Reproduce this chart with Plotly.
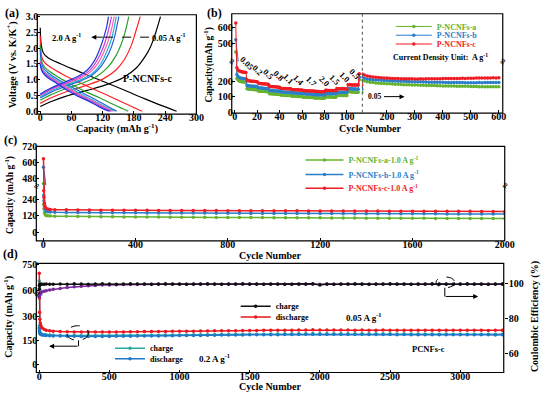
import plotly.graph_objects as go

# ======================= DATA =======================
# (a) charge / discharge profiles of P-NCNFs-c at different current densities (A g-1)
A_RATES = ["0.05", "0.2", "0.5", "0.8", "1.1", "1.4", "1.7", "2.0"]
A_CHG_CAP = [
    [0, 20, 50, 90, 130, 160, 185, 200, 212, 222, 231],
    [0, 20, 50, 90, 120, 145, 162, 174, 183, 192],
    [0, 20, 50, 85, 110, 130, 145, 155, 163, 170],
    [0, 20, 50, 80, 100, 118, 132, 141, 146, 151],
    [0, 20, 50, 80, 100, 116, 128, 137, 142, 146],
    [0, 20, 50, 78, 97, 112, 124, 133, 138, 142],
    [0, 20, 50, 75, 94, 108, 120, 128, 133, 137],
    [0, 20, 48, 72, 90, 104, 115, 123, 128, 131],
]
A_CHG_V = [
    [0.15, 0.30, 0.48, 0.66, 0.86, 1.07, 1.38, 1.70, 2.05, 2.50, 3.00],
    [0.25, 0.42, 0.62, 0.83, 1.02, 1.30, 1.65, 2.05, 2.50, 3.00],
    [0.35, 0.52, 0.72, 0.92, 1.12, 1.40, 1.75, 2.10, 2.50, 3.00],
    [0.42, 0.60, 0.80, 0.98, 1.15, 1.45, 1.85, 2.25, 2.60, 3.00],
    [0.46, 0.64, 0.84, 1.02, 1.20, 1.50, 1.90, 2.30, 2.65, 3.00],
    [0.50, 0.68, 0.88, 1.06, 1.25, 1.55, 1.95, 2.35, 2.68, 3.00],
    [0.52, 0.70, 0.90, 1.08, 1.28, 1.58, 1.98, 2.38, 2.70, 3.00],
    [0.55, 0.73, 0.93, 1.10, 1.30, 1.60, 2.00, 2.40, 2.70, 3.00],
]
A_DIS_CAP = [
    [0, 2, 6, 15, 40, 80, 120, 160, 200, 235, 262],
    [0, 2, 6, 15, 40, 70, 100, 130, 160, 185, 196],
    [0, 2, 6, 15, 35, 60, 90, 115, 140, 160, 169],
    [0, 2, 6, 15, 35, 60, 85, 105, 125, 140, 147],
    [0, 2, 6, 15, 35, 58, 80, 100, 120, 135, 143],
    [0, 2, 6, 15, 35, 55, 78, 98, 117, 131, 139],
    [0, 2, 6, 15, 33, 53, 75, 95, 113, 127, 136],
    [0, 2, 6, 14, 32, 50, 72, 92, 110, 124, 133],
]
A_DIS_V = [
    [2.65, 2.10, 1.85, 1.70, 1.50, 1.22, 0.95, 0.68, 0.40, 0.17, 0.00],
    [2.40, 1.80, 1.60, 1.45, 1.20, 0.95, 0.72, 0.50, 0.27, 0.08, 0.00],
    [2.10, 1.65, 1.45, 1.30, 1.08, 0.85, 0.60, 0.42, 0.22, 0.07, 0.00],
    [1.95, 1.55, 1.38, 1.22, 1.00, 0.78, 0.55, 0.38, 0.20, 0.06, 0.00],
    [1.70, 1.45, 1.30, 1.16, 0.95, 0.74, 0.53, 0.36, 0.19, 0.06, 0.00],
    [1.60, 1.40, 1.26, 1.12, 0.92, 0.72, 0.51, 0.35, 0.18, 0.06, 0.00],
    [1.55, 1.36, 1.23, 1.10, 0.90, 0.70, 0.50, 0.34, 0.18, 0.06, 0.00],
    [1.50, 1.33, 1.20, 1.07, 0.88, 0.68, 0.48, 0.33, 0.17, 0.05, 0.00],
]

# (b) rate performance (cycles 1-111 every cycle, then every 10 cycles)
B_CYCLES = list(range(1, 112)) + list(range(120, 601, 10))
B_NAMES = ["P-NCNFs-a", "P-NCNFs-b", "P-NCNFs-c"]
B_RATE_LABELS = ["0.05", "0.2", "0.5", "0.8", "1.1", "1.4", "1.7", "2.0", "1.5", "1.0", "0.5"]
B_A = [446, 216, 206, 201, 198, 196, 195, 194, 193, 192,
       150, 149, 148, 147, 147, 146, 146, 145, 145, 145,
       136, 135, 135, 134, 134, 133, 133, 133, 132, 132,
       119, 118, 118, 117, 117, 117, 116, 116, 116, 115,
       110, 110, 109, 109, 109, 108, 108, 108, 107, 107,
       103, 103, 102, 102, 102, 101, 101, 101, 101, 100,
       97, 97, 96, 96, 96, 96, 95, 95, 95, 95,
       92, 92, 91, 91, 91, 91, 90, 90, 90, 90,
       99, 99, 98, 98, 98, 98, 97, 97, 97, 97,
       110, 109, 109, 109, 108, 108, 108, 108, 107, 107,
       132, 131, 131, 130, 130, 130, 129, 129, 129, 129,
       208, 200, 195, 192, 190, 188, 186, 185, 184, 183,
       182, 181, 180, 179, 178, 177, 177, 176, 175, 175,
       174, 173, 173, 172, 172, 171, 171, 170, 170, 169,
       169, 168, 168, 168, 167, 167, 166, 166, 166, 165,
       165, 165, 164, 164, 164, 164, 163, 163, 163, 163]
B_B = [522, 242, 229, 223, 220, 218, 216, 215, 214, 213,
       172, 170, 169, 168, 167, 167, 166, 166, 165, 165,
       157, 156, 155, 155, 154, 154, 153, 153, 153, 152,
       140, 139, 139, 138, 138, 137, 137, 137, 136, 136,
       131, 130, 130, 130, 129, 129, 129, 128, 128, 128,
       124, 124, 123, 123, 123, 122, 122, 122, 122, 121,
       118, 118, 118, 117, 117, 117, 117, 116, 116, 116,
       113, 113, 113, 112, 112, 112, 112, 111, 111, 111,
       120, 120, 119, 119, 119, 119, 118, 118, 118, 118,
       130, 130, 129, 129, 129, 129, 128, 128, 128, 128,
       151, 150, 150, 150, 149, 149, 149, 149, 148, 148,
       225, 218, 213, 210, 208, 207, 206, 205, 204, 203,
       202, 201, 200, 199, 199, 198, 197, 197, 196, 196,
       195, 195, 194, 194, 193, 193, 193, 192, 192, 192,
       191, 191, 191, 190, 190, 190, 190, 189, 189, 189,
       189, 189, 190, 189, 190, 190, 190, 191, 190, 191]
B_C = [625, 285, 271, 265, 262, 260, 258, 257, 256, 255,
       206, 203, 201, 200, 199, 198, 198, 197, 197, 196,
       187, 185, 184, 183, 182, 182, 181, 181, 180, 180,
       166, 165, 164, 164, 163, 163, 162, 162, 161, 161,
       154, 153, 153, 152, 152, 151, 151, 150, 150, 150,
       146, 145, 145, 144, 144, 144, 143, 143, 143, 142,
       139, 139, 138, 138, 138, 137, 137, 137, 136, 136,
       134, 134, 133, 133, 133, 132, 132, 132, 131, 131,
       141, 141, 140, 140, 140, 139, 139, 139, 139, 138,
       152, 151, 151, 151, 150, 150, 150, 150, 149, 149,
       177, 176, 176, 175, 175, 175, 174, 174, 174, 174,
       246, 238, 233, 229, 226, 224, 222, 221, 220, 219,
       218, 217, 216, 216, 215, 215, 214, 214, 214, 213,
       213, 214, 213, 214, 214, 215, 214, 215, 215, 216,
       216, 216, 217, 216, 217, 217, 218, 217, 218, 218,
       218, 219, 219, 220, 219, 220, 220, 221, 220, 221]

# (c) long cycling at 1.0 A g-1
C_CYCLES = [1, 2, 3, 5, 8, 12, 20, 30, 50] + list(range(100, 2001, 50))
C_NAMES = ["P-NCNFs-a-1.0 A g<sup>-1</sup>", "P-NCNFs-b-1.0 A g<sup>-1</sup>", "P-NCNFs-c-1.0 A g<sup>-1</sup>"]
C_A = [442, 205, 172, 142, 129, 123, 120, 118, 117,
       116, 115, 114, 114, 113, 112, 112, 111, 111, 110,
       110, 109, 109, 108, 108, 107, 107, 107, 106, 106,
       105, 105, 105, 104, 104, 104, 103, 103, 103, 102,
       102, 102, 101, 101, 101, 100, 100, 100, 100]
C_B = [565, 270, 232, 192, 168, 156, 150, 148, 146,
       145, 144, 144, 143, 143, 142, 142, 141, 141, 141,
       140, 140, 140, 139, 139, 139, 138, 138, 138, 138,
       137, 137, 137, 137, 136, 136, 136, 136, 135, 135,
       135, 135, 135, 134, 134, 134, 134, 133, 133]
C_C = [628, 305, 255, 212, 188, 176, 170, 167, 165,
       164, 163, 163, 162, 162, 161, 161, 161, 160, 160,
       160, 159, 159, 159, 158, 158, 158, 157, 157, 157,
       157, 156, 156, 156, 155, 155, 155, 155, 154, 154,
       154, 154, 153, 153, 153, 153, 152, 152, 152]

# (d) PCNFs-c long cycling at 0.05 and 0.2 A g-1 with Coulombic efficiency
D_CYCLES = [1, 2, 3, 5, 8, 12, 20, 35, 50, 75, 100] + list(range(150, 3301, 50))
D_DIS_005 = [700, 420, 330, 285, 262, 246, 233, 223, 217, 213, 210,
             208, 207, 206, 206, 205, 205, 205, 206, 206, 206,
             207, 207, 208, 208, 209, 209, 210, 210, 211, 211,
             212, 212, 213, 213, 214, 214, 215, 215, 215, 216,
             216, 216, 217, 217, 218, 218, 219, 218, 218, 218,
             218, 218, 217, 218, 217, 217, 218, 217, 217, 217,
             217, 216, 217, 216, 216, 217, 216, 216, 216, 216,
             216, 215, 216, 216]
D_CHG_02 = [655, 245, 222, 206, 198, 194, 191, 189, 188, 186, 185,
            184, 183, 183, 182, 182, 182, 182, 182, 183, 183,
            183, 184, 184, 185, 185, 186, 186, 187, 187, 188,
            188, 189, 189, 190, 190, 191, 191, 192, 192, 192,
            193, 193, 194, 194, 195, 195, 196, 195, 195, 195,
            195, 195, 194, 195, 194, 194, 194, 194, 193, 194,
            193, 193, 193, 193, 192, 193, 192, 192, 192, 192,
            192, 192, 191, 192]
D_DIS_02 = [230, 214, 205, 198, 193, 190, 187, 185, 183, 182, 181,
            180, 179, 179, 178, 178, 178, 178, 178, 179, 179,
            179, 180, 180, 181, 181, 182, 182, 183, 183, 184,
            184, 185, 185, 186, 186, 187, 187, 188, 188, 188,
            189, 189, 190, 190, 191, 191, 192, 191, 191, 191,
            191, 191, 190, 191, 190, 190, 190, 190, 189, 190,
            189, 189, 189, 189, 188, 189, 188, 188, 188, 188,
            188, 188, 187, 188]
D_CE_005 = [97.0, 99.0, 99.4, 99.6, 99.7, 99.7, 99.8, 99.8, 99.9, 99.8, 99.8,
            99.9, 99.8, 100.0, 99.9, 99.8, 99.9, 100.0, 99.9, 99.8, 99.9,
            100.0, 99.9, 99.9, 99.8, 99.9, 100.0, 99.9, 99.9, 99.8, 99.9,
            99.9, 100.0, 99.9, 99.8, 99.9, 99.9, 100.0, 99.9, 99.9, 99.8,
            99.9, 99.9, 99.8, 99.8, 99.9, 99.9, 100.0, 99.3, 99.9, 99.8,
            99.9, 99.9, 100.0, 99.9, 99.8, 99.9, 99.9, 100.0, 99.9, 99.9,
            99.8, 99.9, 99.9, 100.0, 99.9, 99.9, 99.8, 99.9, 100.0, 99.9,
            99.9, 99.8, 99.9, 99.9]
D_CE_02 = [92.5, 93.5, 94.0, 94.4, 94.7, 95.0, 95.3, 95.7, 96.0, 96.5, 96.9,
           97.4, 97.9, 98.3, 98.6, 98.9, 99.1, 99.3, 99.4, 99.5, 99.6,
           99.6, 99.7, 99.7, 99.7, 99.8, 99.7, 99.8, 99.7, 99.8, 99.8,
           99.7, 99.8, 99.7, 99.8, 99.8, 99.7, 99.8, 99.8, 99.7, 99.8,
           99.8, 99.7, 99.8, 99.8, 99.7, 99.8, 99.7, 99.8, 99.8, 99.7,
           99.8, 99.8, 99.7, 99.8, 99.7, 99.8, 99.8, 99.7, 99.8, 99.8,
           99.7, 99.8, 99.8, 99.7, 99.8, 99.7, 99.8, 99.8, 99.7, 99.8,
           99.8, 99.7, 99.8, 99.8]

# tick labels
A_XTICKS = [0, 60, 120, 180, 240, 300]
A_YTICKS = [0.0, 0.5, 1.0, 1.5, 2.0, 2.5, 3.0]
B_XTICKS_L = [0, 20, 40, 60, 80, 100]
B_XTICKS_R = [200, 300, 400, 500, 600]
B_YTICKS_LO = [0, 100, 200]
B_YTICKS_HI = [500, 600]
C_XTICKS = [0, 400, 800, 1200, 1600, 2000]
C_YTICKS_LO = [0, 120, 240]
C_YTICKS_HI = [480, 600, 720]
D_XTICKS = [0, 500, 1000, 1500, 2000, 2500, 3000]
D_YTICKS_LO = [0, 150, 300]
D_YTICKS_HI = [600, 750]
D_Y2TICKS = [60, 80, 100]

# ======================= STYLE / LAYOUT =======================
W, H = 554, 397
SERIF = "Liberation Serif"


def fx(p):
    return p / W


def fy(p):
    return 1 - p / H


A_COLORS = ["#000000", "#ff2020", "#2ca02c", "#2b5fd9", "#19b6d2", "#ff5fb0", "#c43fd8", "#2233dd"]
B_COLORS = ["#66b32e", "#2a7fc8", "#ee1c24"]
D_RED, D_TEAL, D_BLUE, D_BLACK, D_PURPLE = "#e8161e", "#2aa9a2", "#1f78c8", "#111111", "#7a2a9a"

fig = go.Figure()

# ---- (a)
for i in range(len(A_RATES)):
    for xs, ys in ((A_CHG_CAP[i], A_CHG_V[i]), (A_DIS_CAP[i], A_DIS_V[i])):
        fig.add_trace(go.Scatter(x=xs, y=ys, mode="lines", line=dict(color=A_COLORS[i], width=1.2, shape="spline"),
                                 xaxis="x", yaxis="y", showlegend=False, name=A_RATES[i] + " A g-1"))

# ---- (b)
B_SERIES = [B_A, B_B, B_C]
for k in range(3):
    for j, (xa, ya) in enumerate((("x2", "y2"), ("x2", "y3"), ("x3", "y2"))):
        fig.add_trace(go.Scatter(x=B_CYCLES, y=B_SERIES[k], mode="lines+markers", name=B_NAMES[k],
                                 line=dict(color=B_COLORS[k], width=1),
                                 marker=dict(size=3.5, color=B_COLORS[k]),
                                 xaxis=xa, yaxis=ya, showlegend=(j == 0),
                                 legend="legend" if k == 0 else "legend%d" % (k + 1)))

# ---- (c)
C_SERIES = [C_A, C_B, C_C]
for k in range(3):
    for j, ya in enumerate(("y4", "y5")):
        fig.add_trace(go.Scatter(x=C_CYCLES, y=C_SERIES[k], mode="lines+markers", name=C_NAMES[k],
                                 line=dict(color=B_COLORS[k], width=1.5),
                                 marker=dict(size=3.5, color=B_COLORS[k]),
                                 xaxis="x4", yaxis=ya, showlegend=(j == 0), legend="legend%d" % (k + 4)))

# ---- (d)
fig.add_trace(go.Scatter(x=D_CYCLES, y=D_CE_02, mode="lines+markers", line=dict(color=D_PURPLE, width=1.5),
                         marker=dict(size=3.5, color=D_PURPLE), xaxis="x5", yaxis="y8", showlegend=False,
                         name="CE 0.2"))
fig.add_trace(go.Scatter(x=D_CYCLES, y=D_CE_005, mode="lines+markers", line=dict(color=D_BLACK, width=1.5),
                         marker=dict(size=3.5, color=D_BLACK), xaxis="x5", yaxis="y8", showlegend=True,
                         name="charge", legend="legend7"))
for series, color, nm, lg in ((D_CHG_02, D_TEAL, "charge", "legend9"),
                              (D_DIS_02, D_BLUE, "discharge", "legend10"),
                              (D_DIS_005, D_RED, "discharge", "legend8")):
    for j, ya in enumerate(("y6", "y7")):
        fig.add_trace(go.Scatter(x=D_CYCLES, y=series, mode="lines+markers", name=nm,
                                 line=dict(color=color, width=1.5), marker=dict(size=3.5, color=color),
                                 xaxis="x5", yaxis=ya, showlegend=(j == 0), legend=lg))


def ax(domain, rng, tickvals, anchor, side=None, fmt=None, size=10, ticks="inside", standoff=-2):
    d = dict(domain=domain, range=rng, tickvals=tickvals, anchor=anchor, showgrid=False, zeroline=False,
             showline=False, ticks=ticks, ticklen=3, tickwidth=1, tickcolor="black",
             ticklabelstandoff=standoff,
             tickfont=dict(family=SERIF, size=size, color="black", weight="bold"), fixedrange=True)
    if side:
        d["side"] = side
    if fmt:
        d["tickformat"] = fmt
    return d


XS = -4  # x tick label standoff
layout = dict(
    width=W, height=H, margin=dict(l=0, r=0, t=0, b=0),
    paper_bgcolor="white", plot_bgcolor="rgba(0,0,0,0)", showlegend=True,
    xaxis=ax([fx(38), fx(200)], [-5.6, 300], A_XTICKS, "y", standoff=XS),
    yaxis=ax([fy(112), fy(10)], [-0.093, 3.062], A_YTICKS, "x", fmt=".1f"),
    xaxis2=ax([fx(236), fx(369)], [-2.6, 113.7], B_XTICKS_L, "y2", standoff=XS),
    xaxis3=ax([fx(369), fx(512)], [112.3, 614], B_XTICKS_R, "y2", standoff=XS),
    yaxis2=ax([fy(111), fy(58)], [-6, 325], B_YTICKS_LO, "x2"),
    yaxis3=ax([fy(58), fy(9)], [387, 682], B_YTICKS_HI, "x2"),
    xaxis4=ax([fx(37), fx(514)], [-30, 2000], C_XTICKS, "y4", standoff=XS),
    yaxis4=ax([fy(242), fy(185)], [-65, 345], C_YTICKS_LO, "x4"),
    yaxis5=ax([fy(185), fy(145)], [429, 722], C_YTICKS_HI, "x4"),
    xaxis5=ax([fx(37), fx(513)], [-20, 3310], D_XTICKS, "y6", standoff=XS),
    yaxis6=ax([fy(377), fy(298)], [-49, 435], D_YTICKS_LO, "x5"),
    yaxis7=ax([fy(298), fy(265)], [572, 757], D_YTICKS_HI, "x5"),
    yaxis8=ax([fy(377), fy(265)], [49.4, 111.7], D_Y2TICKS, "x5", side="right", ticks="outside", standoff=-1),
)


def leg(x, y, color, iw=30, size=8):
    return dict(x=fx(x), y=fy(y), xanchor="left", yanchor="middle", xref="paper", yref="paper",
                bgcolor="rgba(0,0,0,0)", borderwidth=0, itemwidth=iw, tracegroupgap=0,
                font=dict(family=SERIF, size=size, color=color, weight="bold"))


layout["legend"] = leg(398, 22, B_COLORS[0], iw=36)
layout["legend2"] = leg(398, 31, B_COLORS[1], iw=36)
layout["legend3"] = leg(398, 40, B_COLORS[2], iw=36)
layout["legend4"] = leg(306, 159, B_COLORS[0], iw=38)
layout["legend5"] = leg(306, 174, B_COLORS[1], iw=38)
layout["legend6"] = leg(306, 188, B_COLORS[2], iw=38)
layout["legend7"] = leg(240, 309, "black")
layout["legend8"] = leg(240, 320, "black")
layout["legend9"] = leg(112, 352, "black")
layout["legend10"] = leg(112, 363, "black")


def txt(x, y, s, size=10, color="black", angle=0, xanchor="center"):
    return dict(x=fx(x), y=fy(y), xref="paper", yref="paper", text=s, showarrow=False,
                font=dict(family=SERIF, size=size, color=color, weight="bold"),
                textangle=angle, xanchor=xanchor, yanchor="middle")


def arrow(xh, yh, xt, yt):
    return dict(x=fx(xh), y=fy(yh), xref="paper", yref="paper", ax=xt - xh, ay=yt - yh,
                axref="pixel", ayref="pixel", text="", showarrow=True, arrowhead=2, arrowsize=1,
                arrowwidth=1, arrowcolor="black")


ann = [
    txt(12, 8, "(a)", size=12), txt(218, 8, "(b)", size=12),
    txt(11, 138, "(c)", size=12), txt(11, 255, "(d)", size=12),
    # axis titles
    txt(12, 61, "Voltage (V vs. K/K<sup>+</sup>)", size=10, angle=-90),
    txt(119, 127, "Capacity (mAh g<sup>-1</sup>)", size=10),
    txt(212, 62, "Capacity(mAh g<sup>-1</sup>)", size=9.5, angle=-90),
    txt(377, 127, "Cycle Number", size=10),
    txt(9, 195, "Capacity (mAh g<sup>-1</sup>)", size=9.5, angle=-90),
    txt(275, 257, "Cycle Number", size=10),
    txt(9, 320, "Capacity (mAh g<sup>-1</sup>)", size=10, angle=-90),
    txt(545, 320, "Coulombic Efficiency (%)", size=10, angle=-90),
    txt(275, 391, "Cycle Number", size=10),
    # (a)
    txt(68, 33, "2.0 A g<sup>-1</sup>", size=8.5), txt(172, 33, "0.05 A g<sup>-1</sup>", size=8.5),
    arrow(93, 33, 106, 33),
    txt(150, 75, "P-NCNFs-c", size=10),
    # (b)
    txt(398, 53, "Current Density Unit:  A g<sup>-1</sup>", size=8, xanchor="left"),
    txt(381, 94, "0.05", size=7.5), arrow(412, 94, 390, 94),
    # (d)
    txt(371, 320, "0.05 A g<sup>-1</sup>", size=9), txt(218, 362, "0.2 A g<sup>-1</sup>", size=9),
    txt(436, 353, "PCNFs-c", size=8.5),
    arrow(487, 299, 453, 299), arrow(50, 350, 80, 350),
]
B_LABEL_POS = [(251, 60), (262, 67), (273, 71), (284, 73), (294, 76), (304, 77), (317, 78), (330, 78),
               (341, 77), (351, 74), (361, 71)]
for lab, (x, y) in zip(B_RATE_LABELS, B_LABEL_POS):
    ann.append(txt(x, y, lab, size=8.5, angle=45))
for (x, y) in ((236, 58), (512, 58), (37, 185), (514, 185), (38, 296)):
    ann.append(txt(x, y, "≈", size=10, angle=-70))
layout["annotations"] = ann


def rect(x0, y0, x1, y1):
    return dict(type="rect", xref="paper", yref="paper", x0=fx(x0), x1=fx(x1), y0=fy(y1), y1=fy(y0),
                line=dict(color="black", width=1.2), fillcolor="rgba(0,0,0,0)")


def line(x0, y0, x1, y1, dash="solid", color="black", width=1):
    return dict(type="line", xref="paper", yref="paper", x0=fx(x0), x1=fx(x1), y0=fy(y0), y1=fy(y1),
                line=dict(color=color, width=width, dash=dash))


layout["shapes"] = [
    rect(38, 10, 200, 112), rect(236, 9, 512, 111), rect(37, 145, 514, 242), rect(37, 265, 513, 377),
    line(369, 9, 369, 111, dash="dot", color="#555555"),
    line(106, 33, 155, 33, dash="dash", width=1),
    dict(type="circle", xref="paper", yref="paper", x0=fx(444), x1=fx(463), y0=fy(290), y1=fy(279),
         line=dict(color="black", width=1, dash="dash")),
    line(453, 290, 453, 299),
    dict(type="circle", xref="paper", yref="paper", x0=fx(68), x1=fx(90), y0=fy(344), y1=fy(329),
         line=dict(color="black", width=1, dash="dash")),
    line(80, 344, 80, 350),
]

fig.update_layout(**layout)
fig.write_html("out.html", config={"displayModeBar": False},
               post_script="document.body.style.margin='0';document.body.style.padding='0';")
